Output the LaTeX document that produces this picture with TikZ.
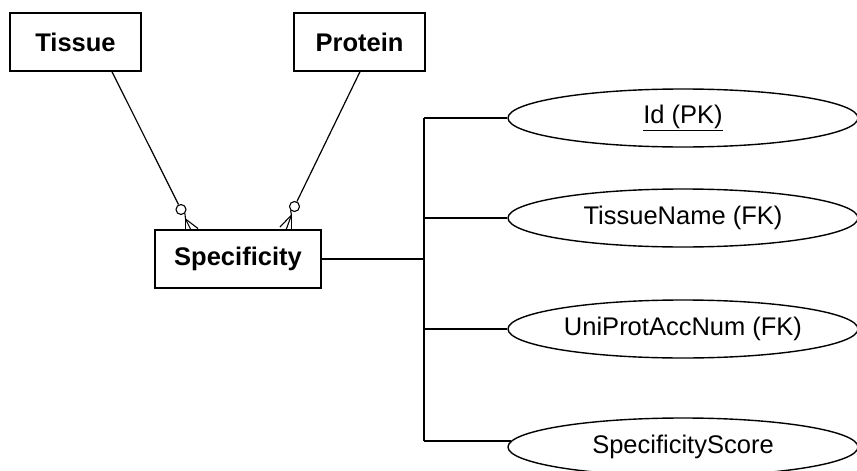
\documentclass[tikz,border=0pt]{standalone}
\usepackage{fontspec}
\setmainfont{Liberation Sans}
\usetikzlibrary{shapes.geometric}
\begin{document}
\begin{tikzpicture}[x=1pt,y=-1pt,line width=1.4pt,
  entity/.style={draw,rectangle,minimum width=131pt,minimum height=58pt,inner sep=0pt,font=\fontsize{25.5}{30}\selectfont\bfseries},
  attr/.style={draw,ellipse,minimum width=350pt,minimum height=58pt,inner sep=0pt,font=\fontsize{25.5}{30}\selectfont},
  ring/.style={draw,circle,minimum size=10pt,inner sep=0pt,line width=1.1pt},
  prong/.style={line width=1.1pt},
  rel/.style={line width=1.2pt}]
\useasboundingbox (0,0) rectangle (857,471);
\clip (0,0) rectangle (857,471);
\node[entity] (tissue) at (75.5,42) {Tissue};
\node[entity] (protein) at (359.5,42) {Protein};
\node[entity,minimum width=166pt] (spec) at (238,259) {Specificity};
\node[ring] (c1) at (181,209.5) {};
\node[ring] (c2) at (294.5,206.5) {};
\coordinate (a1) at (185.5,219);
\coordinate (a2) at (291.5,215);
\draw[rel] (tissue.south -| 112,0) -- (c1);
\draw[rel] (protein.south -| 360,0) -- (c2);
\draw[prong] (c1.south east) -- (a1);
\draw[prong] (a1) -- (a1 |- spec.north);
\draw[prong] (a1) -- (191,230);
\draw[prong] (a1) -- (198,228.5);
\draw[prong] (c2.south west) -- (a2);
\draw[prong] (a2) -- (a2 |- spec.north);
\draw[prong] (a2) -- (286,230);
\draw[prong] (a2) -- (280,227);
\node[attr] (id) at (683,118) {\underline{Id (PK)}};
\node[attr] (tname) at (683,218) {TissueName (FK)};
\node[attr] (uni) at (683,329) {UniProtAccNum (FK)};
\node[attr] (score) at (683,447) {SpecificityScore};
\coordinate (bus) at (424,0);
\draw (spec.east) -- (spec.east -| bus);
\draw (id.west -| bus) -- (score.178 -| bus);
\draw (id.west -| bus) -- (id.west);
\draw (tname.west -| bus) -- (tname.west);
\draw (uni.west -| bus) -- (uni.west);
\draw (score.178 -| bus) -- (score.178);
\end{tikzpicture}
\end{document}
